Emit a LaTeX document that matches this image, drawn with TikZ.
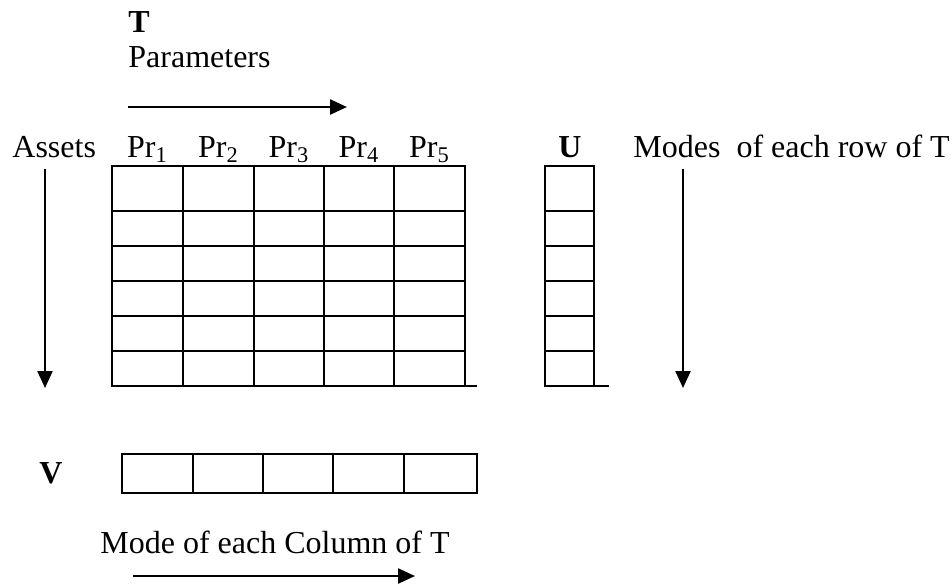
\documentclass[tikz,border=0pt]{standalone}
\usepackage{fontspec}
\setmainfont{Liberation Serif}
\usetikzlibrary{arrows.meta}
\begin{document}
\begin{tikzpicture}[x=0.5pt,y=-0.5pt,font=\fontsize{16}{19}\selectfont]
\tikzstyle{lbl}=[inner sep=0pt,anchor=base west]
\tikzstyle{head}=[inner sep=0pt,anchor=base]
\tikzstyle{cell}=[line width=1.2pt]
\tikzstyle{arr}=[line width=1.2pt,-{Triangle[length=8.5pt,width=7.5pt]}]
\useasboundingbox (0,0) rectangle (952,585);

\node[lbl] (tName) at (128,32) {\textbf{T}};
\node[lbl] (params) at (128,67) {Parameters};
\coordinate (parStart) at (128,107);
\coordinate (parEnd) at (347,107);
\draw[arr] (parStart) -- (parEnd);

\node[lbl] (assets) at (12,157) {Assets};
\foreach \i/\x in {1/147.5,2/218.5,3/289,4/359,5/429.5}
  \node[head] (pr\i) at (\x,157) {Pr\textsubscript{\i}};

%the T matrix, first row is a bit taller
\draw[cell] (112,166) rectangle (465,386);
\foreach \x in {183,254,324,394} \draw[cell] (\x,166) -- (\x,386);
\foreach \y in {211,246,281,316,351} \draw[cell] (112,\y) -- (465,\y);
\draw[cell] (465,386) -- (477,386);

\coordinate (assetsTop) at (45,169);
\coordinate (assetsEnd) at (45,388);
\draw[arr] (assetsTop) -- (assetsEnd);

%U column with the row modes
\node[head] (uName) at (570,157) {\textbf{U}};
\node[lbl] (modes) at (633,157) {Modes~ of each row of T};
\draw[cell] (545,166) rectangle (594,386);
\foreach \y in {211,246,281,316,351} \draw[cell] (545,\y) -- (594,\y);
\draw[cell] (594,386) -- (609,386);

\coordinate (modesTop) at (683,169);
\coordinate (modesEnd) at (683,388);
\draw[arr] (modesTop) -- (modesEnd);

%V row with the column modes
\node[head] (vName) at (51,483) {\textbf{V}};
\draw[cell] (122,454) rectangle (477,493);
\foreach \x in {193,263,333,404} \draw[cell] (\x,454) -- (\x,493);

\node[lbl] (colModes) at (100,553) {Mode of each Column of T};
\coordinate (colStart) at (133,576);
\coordinate (colEnd) at (415,576);
\draw[arr] (colStart) -- (colEnd);

\end{tikzpicture}
\end{document}
